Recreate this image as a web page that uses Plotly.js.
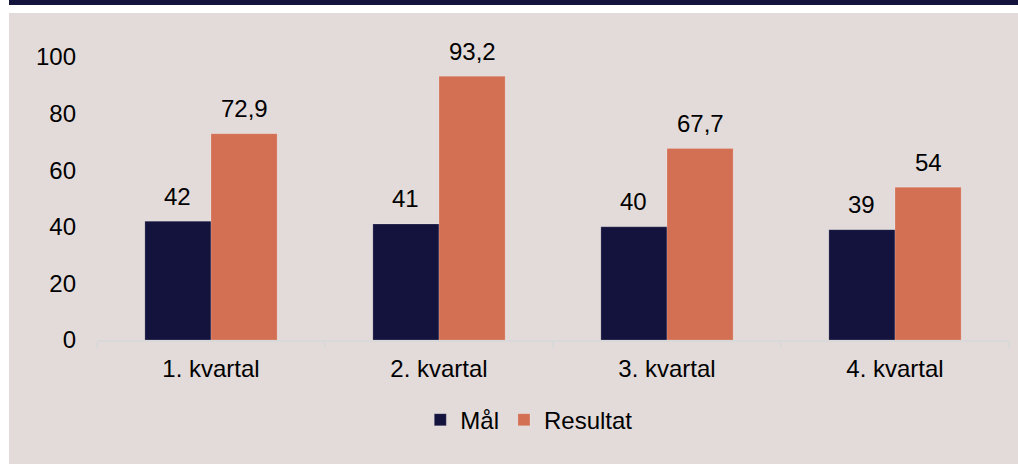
<!DOCTYPE html>
<html>
<head>
<meta charset="utf-8">
<script src="https://cdn.plot.ly/plotly-3.0.1.min.js"></script>
<style>
  html, body { margin: 0; padding: 0; background: #ffffff; width: 1018px; height: 464px; overflow: hidden; }
  #topbar { position: absolute; left: 9px; top: 0; width: 1009px; height: 5px; background: #14133d; }
  #chart { position: absolute; left: 9px; top: 13px; width: 1009px; height: 451px; }
</style>
</head>
<body>
<div id="topbar"></div>
<div id="chart"></div>
<script>
const categories = ["1. kvartal", "2. kvartal", "3. kvartal", "4. kvartal"];
const maal = [42, 41, 40, 39];
const resultat = [72.9, 93.2, 67.7, 54];
const seriesNames = ["Mål", "Resultat"];
const yTicks = [0, 20, 40, 60, 80, 100];

const navy = "#14133d";
const salmon = "#d36f53";
const bg = "#e3dbda";
const fontFamily = "'Liberation Sans', Arial, sans-serif";
const fs = 24;

const fmt = v => String(v).replace(".", ",");

const traces = [
  { type: "bar", name: seriesNames[0], x: categories, y: maal,
    marker: { color: navy, line: { width: 0.6, color: "rgba(255,255,255,0.3)" } },
    hoverinfo: "none" },
  { type: "bar", name: seriesNames[1], x: categories, y: resultat,
    marker: { color: salmon, line: { width: 0.6, color: "rgba(255,255,255,0.3)" } },
    hoverinfo: "none" }
];

// bar centre offset in px: plot width 912 / 4 categories, bargap 0.42 -> group 132px, each bar 66px
const plotW = 912;
const bargap = 0.42;
const barPx = plotW / categories.length * (1 - bargap) / 2;

const annotations = [];
[maal, resultat].forEach((arr, si) => {
  arr.forEach((v, i) => {
    annotations.push({
      x: categories[i], y: v, xref: "x", yref: "y",
      text: fmt(v), showarrow: false,
      xshift: (si === 0 ? -1 : 1) * barPx / 2,
      yanchor: "middle", yshift: 25,
      font: { family: fontFamily, size: fs, color: "#000000" }
    });
  });
});

const layout = {
  width: 1009, height: 451,
  margin: { l: 88, r: 9, t: 44, b: 124, pad: 0 },
  paper_bgcolor: bg, plot_bgcolor: bg,
  barmode: "group", bargap: bargap, bargroupgap: 0,
  separators: ",.",
  font: { family: fontFamily, size: fs, color: "#000000" },
  showlegend: true,
  legend: {
    orientation: "h", x: 0.474, xanchor: "center", y: -0.283, yanchor: "middle",
    font: { family: fontFamily, size: fs, color: "#000000" },
    bgcolor: "rgba(0,0,0,0)", itemwidth: 30, itemclick: false, itemdoubleclick: false
  },
  xaxis: {
    type: "category", showgrid: false, zeroline: false,
    showline: true, linecolor: "#d9d9d9", linewidth: 2,
    ticks: "outside", tickson: "boundaries", ticklen: 6, tickwidth: 2, tickcolor: "#d9d9d9",
    ticklabelstandoff: 6,
    tickfont: { family: fontFamily, size: fs, color: "#000000" },
    fixedrange: true
  },
  yaxis: {
    range: [0, 100], tickvals: yTicks, ticktext: yTicks.map(String),
    showgrid: false, zeroline: false, showline: false, ticks: "",
    ticklabelstandoff: 20,
    tickfont: { family: fontFamily, size: fs, color: "#000000" },
    fixedrange: true
  },
  annotations: annotations
};

Plotly.newPlot("chart", traces, layout, { displayModeBar: false, staticPlot: true });
</script>
</body>
</html>
